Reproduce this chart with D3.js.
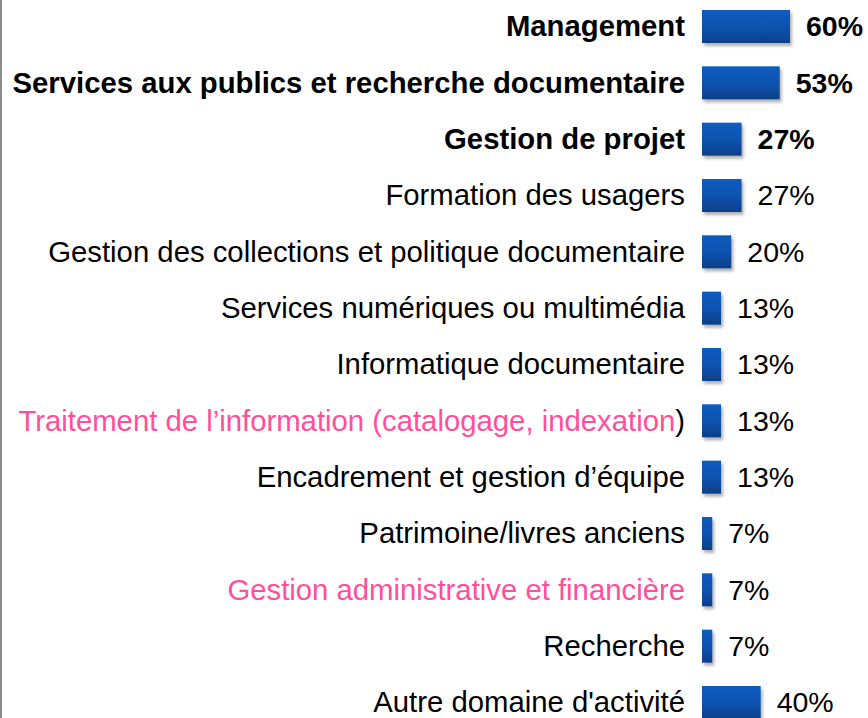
<!DOCTYPE html>
<html lang="fr">
<head>
<meta charset="utf-8">
<title>Domaines d'activité</title>
<script src="https://cdn.jsdelivr.net/npm/d3@7"></script>
<style>
  body { margin: 0; background: #fff; }
  svg { display: block; font-family: "Liberation Sans", Arial, sans-serif; }
  .lbl { font-size: 29.3px; fill: #000; }
  .val { font-size: 28.5px; fill: #000; }
  .bold { font-weight: bold; }
</style>
</head>
<body>
<div id="chart"></div>
<script>
var categories = [
  "Management",
  "Services aux publics et recherche documentaire",
  "Gestion de projet",
  "Formation des usagers",
  "Gestion des collections et politique documentaire",
  "Services numériques ou multimédia",
  "Informatique documentaire",
  "Traitement de l’information (catalogage, indexation)",
  "Encadrement et gestion d’équipe",
  "Patrimoine/livres anciens",
  "Gestion administrative et financière",
  "Recherche",
  "Autre domaine d'activité"
];
var values = [60, 53, 27, 27, 20, 13, 13, 13, 13, 7, 7, 7, 40];
var boldRows = ["Management", "Services aux publics et recherche documentaire", "Gestion de projet"];
var pinkRows = ["Traitement de l’information (catalogage, indexation)", "Gestion administrative et financière"];

var W = 868, H = 718;
var barX = 702, barH = 33;

var svg = d3.select("#chart").append("svg")
    .attr("width", W)
    .attr("height", H);

var defs = svg.append("defs");
var grad = defs.append("linearGradient")
    .attr("id", "barGrad")
    .attr("x1", 0).attr("y1", 0).attr("x2", 0).attr("y2", 1);
grad.append("stop").attr("offset", "0%").attr("stop-color", "#075cc0");
grad.append("stop").attr("offset", "55%").attr("stop-color", "#0752ad");
grad.append("stop").attr("offset", "100%").attr("stop-color", "#0a3f86");

var shadow = defs.append("filter")
    .attr("id", "shadow")
    .attr("x", "-20%").attr("y", "-20%").attr("width", "160%").attr("height", "160%");
shadow.append("feDropShadow")
    .attr("dx", 2).attr("dy", 3)
    .attr("stdDeviation", 1.6)
    .attr("flood-color", "#000")
    .attr("flood-opacity", 0.3);

var x = d3.scaleLinear().domain([0, 60]).range([0, 88]);
var y = d3.scalePoint().domain(categories).range([26.5, 702.5]);

// left frame line
svg.append("line")
    .attr("x1", 1).attr("x2", 1)
    .attr("y1", 0).attr("y2", H)
    .attr("stroke", "#8c8c8c")
    .attr("stroke-width", 2);

var rows = svg.selectAll(".row")
    .data(categories)
    .enter()
    .append("g")
        .attr("class", "row");

rows.append("rect")
    .attr("x", barX)
    .attr("y", function(d) { return y(d) - barH / 2 })
    .attr("width", function(d, i) { return x(values[i]) })
    .attr("height", barH)
    .attr("fill", "url(#barGrad)")
    .attr("filter", "url(#shadow)");

var labels = rows.append("text")
    .attr("class", function(d) { return "lbl" + (boldRows.indexOf(d) >= 0 ? " bold" : "") })
    .attr("x", 685)
    .attr("y", function(d) { return y(d) })
    .attr("dy", "0.33em")
    .attr("text-anchor", "end");

labels.each(function(d) {
    var t = d3.select(this);
    if (d.indexOf("Traitement") === 0) {
        t.append("tspan").style("fill", "#ff4f9a").text(d.slice(0, -1));
        t.append("tspan").text(")");
    } else {
        t.text(d);
        if (pinkRows.indexOf(d) >= 0) t.style("fill", "#ff4f9a");
    }
});

rows.append("text")
    .attr("class", function(d) { return "val" + (boldRows.indexOf(d) >= 0 ? " bold" : "") })
    .attr("x", function(d, i) { return barX + x(values[i]) + 16 })
    .attr("y", function(d) { return y(d) })
    .attr("dy", "0.34em")
    .text(function(d, i) { return values[i] + "%" });
</script>
</body>
</html>
